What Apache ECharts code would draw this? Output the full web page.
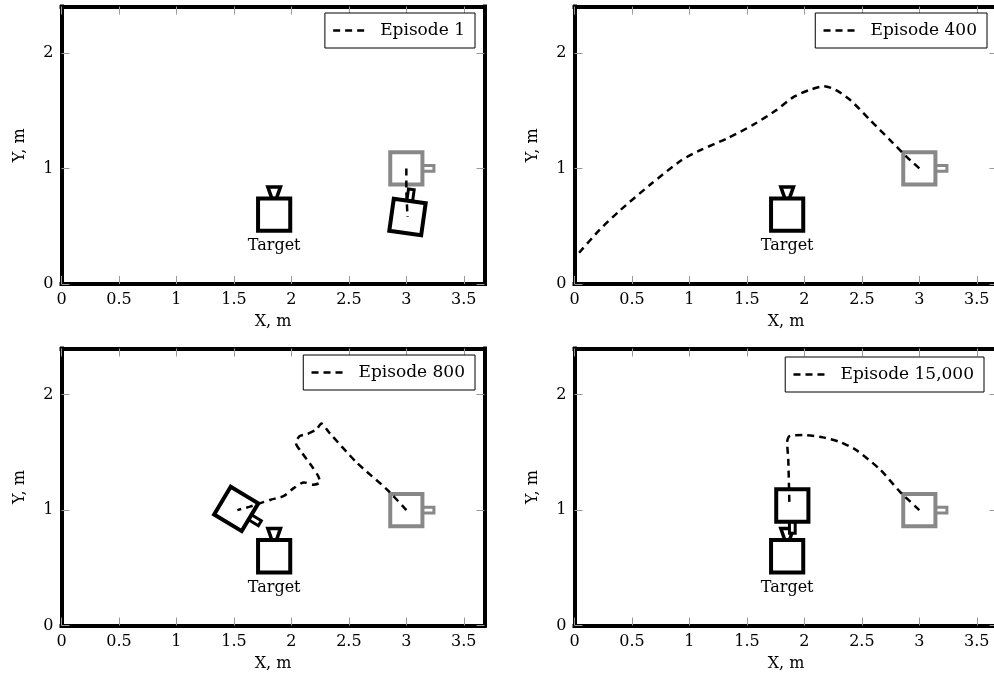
<!DOCTYPE html>
<html><head><meta charset="utf-8">
<script src="https://cdn.jsdelivr.net/npm/echarts@6/dist/echarts.min.js"></script>
<style>html,body{margin:0;padding:0;background:#fff}#chart{width:994px;height:680px}</style>
</head><body><div id="chart"></div>
<script>
// ---------- data ----------
const X_TICKS = [0, 0.5, 1, 1.5, 2, 2.5, 3, 3.5];
const Y_TICKS = [0, 1, 2];
const X_RANGE = [0, 3.68];
const Y_RANGE = [0, 2.4];
const EPISODES = ['Episode 1', 'Episode 400', 'Episode 800', 'Episode 15,000'];

const traj_ep1 = [[3.0, 1.0], [3.0, 0.8], [3.01, 0.58]];
const traj_ep400 = [[3.0, 1.0], [2.89, 1.1], [2.76, 1.23], [2.57, 1.42], [2.4, 1.59], [2.27, 1.68], [2.17, 1.71],
  [2.05, 1.68], [1.91, 1.62], [1.75, 1.5], [1.56, 1.38], [1.33, 1.26], [1.1, 1.16], [0.93, 1.07],
  [0.66, 0.86], [0.4, 0.64], [0.22, 0.47], [0.04, 0.27]];
const traj_ep800 = [[3.0, 1.0], [2.83, 1.18], [2.57, 1.41], [2.33, 1.67], [2.26, 1.75], [2.22, 1.7],
  [2.14, 1.66], [2.07, 1.64], [2.04, 1.58], [2.09, 1.5], [2.17, 1.39], [2.23, 1.3], [2.25, 1.24],
  [2.19, 1.22], [2.11, 1.24], [2.02, 1.19], [1.93, 1.12], [1.82, 1.09], [1.73, 1.06], [1.64, 1.03], [1.53, 1.0]];
const traj_ep15000 = [[3.0, 1.0], [2.83, 1.16], [2.66, 1.35], [2.45, 1.52], [2.31, 1.59], [2.16, 1.63],
  [1.99, 1.65], [1.87, 1.64], [1.85, 1.59], [1.86, 1.43], [1.87, 1.03]];
const TRAJECTORIES = [traj_ep1, traj_ep400, traj_ep800, traj_ep15000];

// poses: [x, y, heading in degrees]
const TARGET_POSE = [1.85, 0.6, 90];
const START_POSE = [3.0, 1.0, 0];
const final_ep1 = [3.01, 0.58, 82];
const final_ep400 = null;
const final_ep800 = [1.52, 1.01, -31];
const final_ep15000 = [1.895, 1.04, -90];
const FINAL_POSES = [final_ep1, final_ep400, final_ep800, final_ep15000];

// ---------- geometry / style (not data) ----------
const SIDE = 0.28, HANDLE_LEN = 0.1, HANDLE_W = 0.05;
const FUNNEL_H = 0.1, FUNNEL_TOP = 0.11, FUNNEL_BOT = 0.04;
const FONT = 'DejaVu Serif';
const GRIDS = [
  {left: 61.5, top: 6.5, width: 423, height: 277.5},
  {left: 574.5, top: 6.5, width: 423, height: 277.5},
  {left: 61.5, top: 348.5, width: 423, height: 277},
  {left: 574.5, top: 348.5, width: 423, height: 277}
];
const LEGEND_POS = [{right: 519, top: 13}, {right: 7, top: 13}, {right: 519, top: 355}, {right: 10, top: 357}];

function renderShape(shapes) {
  return function (params, api) {
    const kind = shapes[params.dataIndex].kind;
    const cx = api.value(0), cy = api.value(1), th = api.value(2) * Math.PI / 180;
    const c = Math.cos(th), s = Math.sin(th);
    const pt = (lx, ly) => api.coord([cx + lx * c - ly * s, cy + lx * s + ly * c]);
    const h = SIDE / 2;
    const color = kind === 'start' ? '#888' : '#000';
    const children = [];
    if (kind === 'target') {
      children.push({type: 'polygon', shape: {points: [pt(h, -FUNNEL_BOT / 2), pt(h + FUNNEL_H, -FUNNEL_TOP / 2), pt(h + FUNNEL_H, FUNNEL_TOP / 2), pt(h, FUNNEL_BOT / 2)]},
        style: {fill: '#fff', stroke: color, lineWidth: 3.5, lineJoin: 'miter'}});
    } else {
      children.push({type: 'polygon', shape: {points: [pt(h, -HANDLE_W / 2), pt(h + HANDLE_LEN, -HANDLE_W / 2), pt(h + HANDLE_LEN, HANDLE_W / 2), pt(h, HANDLE_W / 2)]},
        style: {fill: '#fff', stroke: color, lineWidth: 3, lineJoin: 'miter'}});
    }
    children.push({type: 'polygon', shape: {points: [pt(-h, -h), pt(h, -h), pt(h, h), pt(-h, h)]},
      style: {fill: '#fff', stroke: color, lineWidth: 4, lineJoin: 'miter'}});
    if (kind === 'target') {
      const p = api.coord([cx, cy - h]);
      children.push({type: 'text', style: {text: 'Target', x: p[0], y: p[1] + 7, align: 'center', verticalAlign: 'top',
        font: '16px "' + FONT + '"', fill: '#000'}});
    }
    return {type: 'group', children: children};
  };
}

const frameLine = {show: true, onZero: false, lineStyle: {color: '#000', width: 4, cap: 'square'}};
const tickStyle = {inside: true, length: 8, lineStyle: {color: '#999', width: 1}};
const labelStyle = {fontFamily: FONT, fontSize: 16, color: '#000'};

const grid = [], xAxis = [], yAxis = [], series = [], legend = [];
GRIDS.forEach((g, i) => {
  grid.push(Object.assign({containLabel: false, outerBoundsMode: 'none'}, g));
  xAxis.push({gridIndex: i, type: 'value', position: 'bottom', min: X_RANGE[0], max: X_RANGE[1], interval: 0.5,
    axisLine: frameLine, axisTick: Object.assign({customValues: X_TICKS}, tickStyle),
    axisLabel: Object.assign({customValues: X_TICKS, margin: 8}, labelStyle),
    splitLine: {show: false}, name: 'X, m', nameLocation: 'middle', nameGap: 30, nameTextStyle: labelStyle});
  xAxis.push({gridIndex: i, type: 'value', position: 'top', min: X_RANGE[0], max: X_RANGE[1], interval: 0.5,
    axisLine: frameLine, axisTick: Object.assign({customValues: X_TICKS}, tickStyle),
    axisLabel: {show: false}, splitLine: {show: false}});
  yAxis.push({gridIndex: i, type: 'value', position: 'left', min: Y_RANGE[0], max: Y_RANGE[1], interval: 1,
    axisLine: frameLine, axisTick: Object.assign({customValues: Y_TICKS}, tickStyle),
    axisLabel: Object.assign({customValues: Y_TICKS, margin: 8}, labelStyle),
    splitLine: {show: false}, name: 'Y, m', nameLocation: 'middle', nameGap: 34, nameTextStyle: labelStyle});
  yAxis.push({gridIndex: i, type: 'value', position: 'right', min: Y_RANGE[0], max: Y_RANGE[1], interval: 1,
    axisLine: frameLine, axisTick: Object.assign({customValues: Y_TICKS}, tickStyle),
    axisLabel: {show: false}, splitLine: {show: false}});

  const shapes = [{pose: TARGET_POSE, kind: 'target'}, {pose: START_POSE, kind: 'start'}];
  if (FINAL_POSES[i]) shapes.push({pose: FINAL_POSES[i], kind: 'final'});
  series.push({type: 'custom', name: 'robots' + i, xAxisIndex: 2 * i, yAxisIndex: 2 * i, z: 2, silent: true,
    data: shapes.map(s => s.pose), renderItem: renderShape(shapes), clip: true});
  series.push({type: 'line', name: EPISODES[i], xAxisIndex: 2 * i, yAxisIndex: 2 * i, z: 3, silent: true,
    data: TRAJECTORIES[i], symbol: 'none', smooth: i === 0 ? false : 0.25,
    lineStyle: {color: '#000', width: 2.5, type: [7, 5]}, itemStyle: {color: '#000'}});
  legend.push(Object.assign({data: [EPISODES[i]], orient: 'horizontal', borderColor: '#000', borderWidth: 1, borderRadius: 0,
    padding: [9, 10, 9, 7], itemWidth: 36, itemHeight: 12, itemGap: 0, backgroundColor: '#fff',
    itemStyle: {color: 'transparent', borderColor: 'transparent', borderWidth: 0, opacity: 0},
    lineStyle: {color: '#000', width: 2.5, type: [7, 5], opacity: 1},
    textStyle: {fontFamily: FONT, fontSize: 17, color: '#000', padding: [0, 0, 0, 6]}, selectedMode: false}, LEGEND_POS[i]));
});

const chart = echarts.init(document.getElementById('chart'));
chart.setOption({animation: false, backgroundColor: '#fff', grid, xAxis, yAxis, series, legend});
</script></body></html>
